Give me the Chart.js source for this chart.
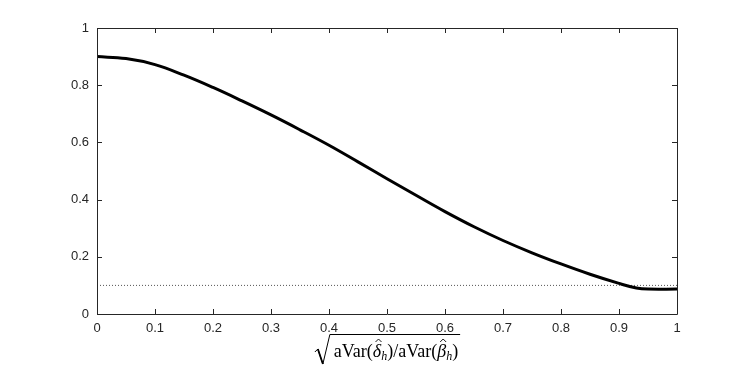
<!DOCTYPE html>
<html lang="en">
  <head>
    <meta charset="UTF-8" />
    <title>Curve</title>
    <script src="https://cdn.jsdelivr.net/npm/chart.js"></script>
    <style>
      html, body { margin: 0; padding: 0; background: #fff; }
      #wrap { width: 747px; height: 374px; }
    </style>
  </head>
  <body>
    <div id="wrap"><canvas id="c" width="747" height="374"></canvas></div>
    <script>
      // values
      const xs = [0, 0.05, 0.1, 0.15, 0.2, 0.25, 0.3, 0.35, 0.4, 0.45, 0.5, 0.55, 0.6, 0.65, 0.7, 0.75, 0.8, 0.85, 0.9, 0.93, 0.95, 1];
      const ys = [0.9, 0.893, 0.872, 0.835, 0.792, 0.745, 0.696, 0.644, 0.59, 0.532, 0.473, 0.415, 0.358, 0.305, 0.257, 0.214, 0.175, 0.139, 0.107, 0.091, 0.087, 0.087];
      const refX = [0, 1];
      const refY = [0.1, 0.1];
      const tickVals = [0, 0.1, 0.2, 0.3, 0.4, 0.5, 0.6, 0.7, 0.8, 0.9, 1];
      const yTickVals = [0, 0.2, 0.4, 0.6, 0.8, 1];

      const axisColor = "#262626";

      // inward ticks on all four sides + box + x title
      const boxTicks = {
        id: "boxTicks",
        afterDraw(chart) {
          const { ctx, chartArea: a, scales } = chart;
          ctx.save();
          ctx.strokeStyle = axisColor;
          ctx.lineWidth = 1;
          ctx.beginPath();
          ctx.rect(a.left + 0.5, a.top + 0.5, a.right - a.left, a.bottom - a.top);
          const len = 5;
          tickVals.forEach((v) => {
            const px = Math.round(scales.x.getPixelForValue(v)) + 0.5;
            ctx.moveTo(px, a.bottom); ctx.lineTo(px, a.bottom - len);
            ctx.moveTo(px, a.top); ctx.lineTo(px, a.top + len);
          });
          yTickVals.forEach((v) => {
            const py = Math.round(scales.y.getPixelForValue(v)) + 0.5;
            ctx.moveTo(a.left, py); ctx.lineTo(a.left + len, py);
            ctx.moveTo(a.right, py); ctx.lineTo(a.right - len, py);
          });
          ctx.stroke();

          // x axis title: sqrt(aVar(delta_h)/aVar(beta_h))
          const parts = [
            { t: "aVar(", f: "18px 'Liberation Serif'" },
            { t: "δ", f: "italic 18px 'Liberation Serif'", hat: true },
            { t: "h", f: "italic 12px 'Liberation Serif'", sub: true },
            { t: ")/aVar(", f: "18px 'Liberation Serif'" },
            { t: "β", f: "italic 18px 'Liberation Serif'", hat: true },
            { t: "h", f: "italic 12px 'Liberation Serif'", sub: true },
            { t: ")", f: "18px 'Liberation Serif'" },
          ];
          let total = 0;
          parts.forEach((p) => { ctx.font = p.f; p.w = ctx.measureText(p.t).width; total += p.w; });
          const cx = 396;
          let x = cx - total / 2;
          const base = 357;
          ctx.fillStyle = "#000";
          ctx.strokeStyle = "#000";
          ctx.textBaseline = "alphabetic";
          ctx.textAlign = "left";
          const x0 = x;
          parts.forEach((p) => {
            ctx.font = p.f;
            ctx.fillText(p.t, x, p.sub ? base + 3 : base);
            if (p.hat) {
              const hx = x + p.w / 2 + 1.5;
              ctx.lineWidth = 0.9;
              ctx.beginPath();
              ctx.moveTo(hx - 3, base - 15);
              ctx.lineTo(hx, base - 18);
              ctx.lineTo(hx + 3, base - 15);
              ctx.stroke();
            }
            x += p.w;
          });
          // radical sign
          ctx.lineWidth = 1;
          ctx.beginPath();
          ctx.moveTo(x0 - 19, 352);
          ctx.lineTo(x0 - 16, 349);
          ctx.lineTo(x0 - 11, 364);
          ctx.lineTo(x0 - 4, 334.5);
          ctx.lineTo(x + 2, 334.5);
          ctx.stroke();
          ctx.lineWidth = 1.8;
          ctx.beginPath();
          ctx.moveTo(x0 - 16, 349);
          ctx.lineTo(x0 - 11, 364);
          ctx.stroke();
          ctx.restore();
        },
      };

      new Chart(document.getElementById("c"), {
        type: "line",
        data: {
          datasets: [
            {
              data: xs.map((x, i) => ({ x: x, y: ys[i] })),
              borderColor: "#000",
              borderWidth: 3,
              pointRadius: 0,
              tension: 0.4,
              fill: false,
            },
            {
              data: refX.map((x, i) => ({ x: x, y: refY[i] })),
              borderColor: "#555",
              borderWidth: 1,
              borderDash: [1, 2],
              pointRadius: 0,
              fill: false,
            },
          ],
        },
        options: {
          responsive: false,
          animation: false,
          layout: { padding: { top: 28, right: 70, left: 0, bottom: 0 } },
          plugins: { legend: { display: false }, tooltip: { enabled: false } },
          scales: {
            x: {
              type: "linear",
              min: 0,
              max: 1,
              afterBuildTicks: (s) => { s.ticks = tickVals.map((v) => ({ value: v })); },
              afterFit: (s) => { s.height = 60; },
              grid: { display: false, drawTicks: false },
              border: { display: false },
              ticks: {
                padding: 7,
                color: axisColor,
                font: { family: "'Liberation Sans', Arial", size: 13 },
                callback: (v) => String(v),
              },
            },
            y: {
              min: 0,
              max: 1,
              afterBuildTicks: (s) => { s.ticks = yTickVals.map((v) => ({ value: v })); },
              afterFit: (s) => { s.width = 97; },
              grid: { display: false, drawTicks: false },
              border: { display: false },
              ticks: {
                padding: 8,
                color: axisColor,
                font: { family: "'Liberation Sans', Arial", size: 13 },
                callback: (v) => String(v),
              },
            },
          },
        },
        plugins: [boxTicks],
      });
    </script>
  </body>
</html>
